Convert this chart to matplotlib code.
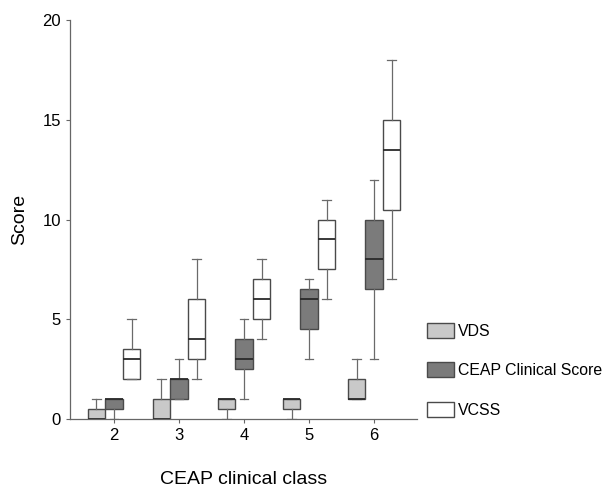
import matplotlib
matplotlib.use("Agg")
import matplotlib.pyplot as plt
from matplotlib.patches import Patch

plt.rcParams["font.family"] = ["Liberation Sans", "DejaVu Sans"]

classes = [2, 3, 4, 5, 6]
series = ["VDS", "CEAP Clinical Score", "VCSS"]

# per class: whisker low, q1, median, q3, whisker high
vds_low = [0, 0, 0, 0, 1]
vds_q1 = [0, 0, 0.5, 0.5, 1]
vds_med = [0, 0, 1, 1, 1]
vds_q3 = [0.5, 1, 1, 1, 2]
vds_high = [1, 2, 1, 1, 3]

ceap_low = [0, 1, 1, 3, 3]
ceap_q1 = [0.5, 1, 2.5, 4.5, 6.5]
ceap_med = [1, 2, 3, 6, 8]
ceap_q3 = [1, 2, 4, 6.5, 10]
ceap_high = [1, 3, 5, 7, 12]

vcss_low = [2, 2, 4, 6, 7]
vcss_q1 = [2, 3, 5, 7.5, 10.5]
vcss_med = [3, 4, 6, 9, 13.5]
vcss_q3 = [3.5, 6, 7, 10, 15]
vcss_high = [5, 8, 8, 11, 18]

colors = ["#c9c9c9", "#7b7b7b", "#ffffff"]


def stats(low, q1, med, q3, high):
    return [dict(whislo=a, q1=b, med=c, q3=d, whishi=e, fliers=[])
            for a, b, c, d, e in zip(low, q1, med, q3, high)]


def main():
    fig = plt.figure(figsize=(6.02, 4.91), dpi=100)
    ax = fig.add_axes([0.1163, 0.1466, 0.5764, 0.8127])

    groups = [
        stats(vds_low, vds_q1, vds_med, vds_q3, vds_high),
        stats(ceap_low, ceap_q1, ceap_med, ceap_q3, ceap_high),
        stats(vcss_low, vcss_q1, vcss_med, vcss_q3, vcss_high),
    ]
    offsets = [-0.27, 0, 0.27]
    for st, off, col in zip(groups, offsets, colors):
        pos = [c + off for c in classes]
        ax.bxp(st, positions=pos, widths=0.27, patch_artist=True,
               showfliers=False, manage_ticks=False,
               boxprops=dict(facecolor=col, edgecolor="#4a4a4a", linewidth=1),
               whiskerprops=dict(color="#6a6a6a", linewidth=0.9),
               capprops=dict(color="#6a6a6a", linewidth=0.9),
               medianprops=dict(color="#2a2a2a", linewidth=1.3))

    ax.set_xlim(1.323, 6.66)
    ax.set_ylim(0, 20)
    ax.set_xticks(classes)
    ax.set_yticks([0, 5, 10, 15, 20])
    ax.tick_params(labelsize=12, length=3, color="#666666", width=0.8)
    for s in ["top", "right"]:
        ax.spines[s].set_visible(False)
    for s in ["left", "bottom"]:
        ax.spines[s].set_color("#666666")
        ax.spines[s].set_linewidth(0.9)
    ax.set_ylabel("Score", fontsize=14, labelpad=10)
    ax.set_xlabel("CEAP clinical class", fontsize=14, labelpad=20)

    handles = [Patch(facecolor=c, edgecolor="#4a4a4a", linewidth=1)
               for c in colors]
    fig.legend(handles, series, loc="center left",
               bbox_to_anchor=(0.709, 0.246), frameon=False,
               fontsize=11.4, handlelength=1.7, handleheight=1.07,
               labelspacing=1.5, handletextpad=0.25,
               borderpad=0, borderaxespad=0)

    fig.savefig("out.png", dpi=100)


if __name__ == "__main__":
    main()
